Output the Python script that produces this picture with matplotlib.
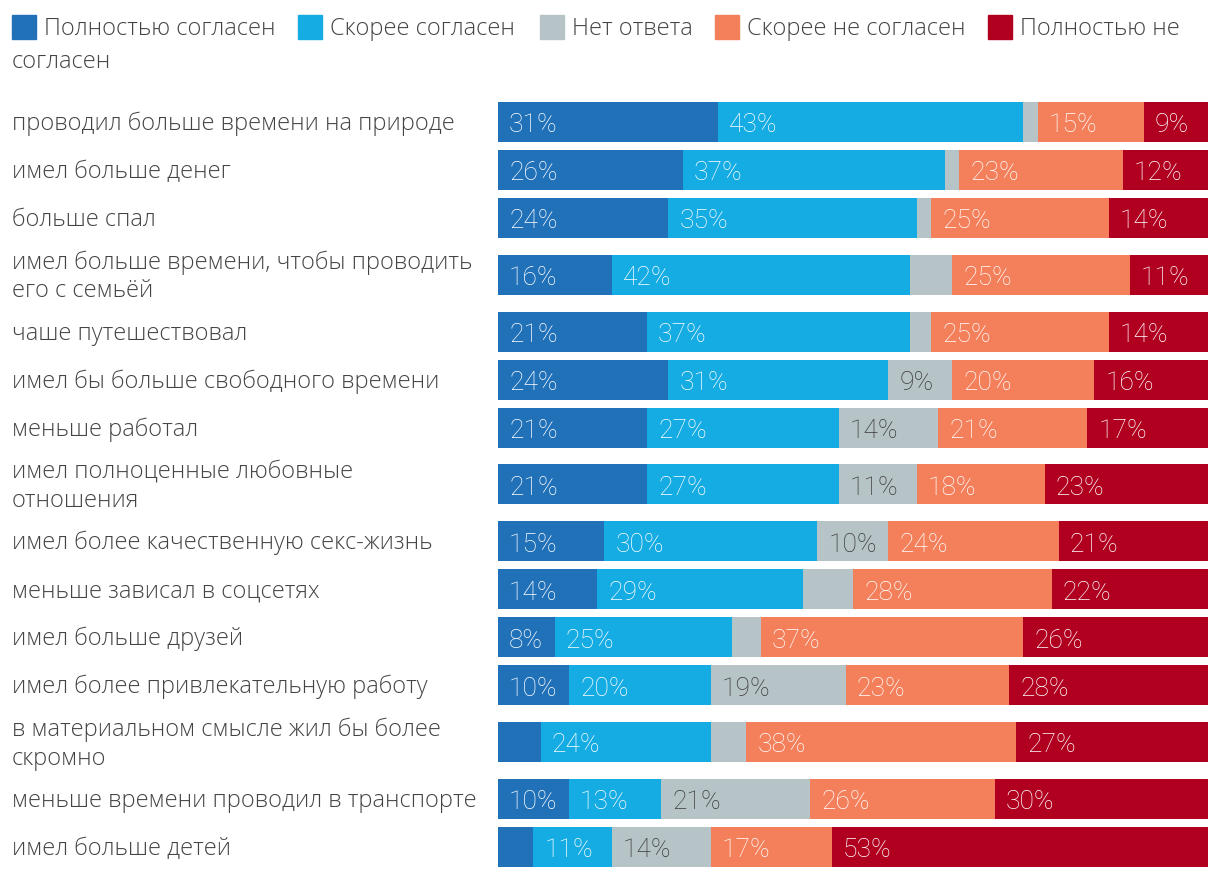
import matplotlib
matplotlib.use("Agg")
import matplotlib.pyplot as plt
from matplotlib.patches import Rectangle

categories = [
    "проводил больше времени на природе",
    "имел больше денег",
    "больше спал",
    "имел больше времени, чтобы проводить\nего с семьёй",
    "чаше путешествовал",
    "имел бы больше свободного времени",
    "меньше работал",
    "имел полноценные любовные\nотношения",
    "имел более качественную секс-жизнь",
    "меньше зависал в соцсетях",
    "имел больше друзей",
    "имел более привлекательную работу",
    "в материальном смысле жил бы более\nскромно",
    "меньше времени проводил в транспорте",
    "имел больше детей",
]
series_names = ["Полностью согласен", "Скорее согласен", "Нет ответа",
                "Скорее не согласен", "Полностью не\nсогласен"]
fully_agree =     [31, 26, 24, 16, 21, 24, 21, 21, 15, 14, 8, 10, 6, 10, 5]
rather_agree =    [43, 37, 35, 42, 37, 31, 27, 27, 30, 29, 25, 20, 24, 13, 11]
no_answer =       [2, 2, 2, 6, 3, 9, 14, 11, 10, 7, 4, 19, 5, 21, 14]
rather_disagree = [15, 23, 25, 25, 25, 20, 21, 18, 24, 28, 37, 23, 38, 26, 17]
fully_disagree =  [9, 12, 14, 11, 14, 16, 17, 23, 21, 22, 26, 28, 27, 30, 53]
series = [fully_agree, rather_agree, no_answer, rather_disagree, fully_disagree]

colors = ["#2171B9", "#15ABE3", "#B6C3C7", "#F47F5B", "#B1001F"]
label_colors = ["white", "white", "#3a3a3a", "white", "white"]

W, H = 1220, 878
fig = plt.figure(figsize=(W / 100, H / 100), dpi=100)

cat_font = "Open Sans"
num_font = "Roboto"
cat_size = 17
num_size = 19

# y positions (pixel-like units) from label line counts
lines = [c.count("\n") + 1 for c in categories]
pos = [0.0]
for i in range(1, len(categories)):
    step = 48.0
    if lines[i] > 1 or lines[i - 1] > 1:
        step += 8.8
    pos.append(pos[-1] + step)

top_px, first_center = 99, 123
y0 = -(first_center - top_px)
y1 = pos[-1] + 25
ax = fig.add_axes([498 / W, 1 - (top_px + (y1 - y0)) / H, 710 / W, (y1 - y0) / H])
ax.set_xlim(0, 100)
ax.set_ylim(y1, y0)
ax.axis("off")

bar_h = 40
left = [0] * len(categories)
for s, vals in enumerate(series):
    ax.barh(pos, vals, left=left, height=bar_h, color=colors[s], edgecolor="none")
    for i, v in enumerate(vals):
        if v >= 8:
            ax.text(left[i] + 1.55, pos[i] + 9.5, f"{v}%", va="baseline", ha="left",
                    color=label_colors[s], fontsize=num_size, family=num_font,
                    fontweight="light")
    left = [l + v for l, v in zip(left, vals)]

for i, c in enumerate(categories):
    fig.text(12 / W, 1 - (first_center + pos[i] + 1) / H, c, ha="left", va="center",
             fontsize=cat_size, family=cat_font, fontweight="light", color="#444444",
             linespacing=1.27)

# legend
sq = 24
legend_x = [12, 298, 540, 715, 988]
for s, name in enumerate(series_names):
    x = legend_x[s]
    fig.patches.append(Rectangle((x / W, 1 - (16 + sq) / H), sq / W, sq / H,
                                 transform=fig.transFigure, color=colors[s]))
    first, *rest = name.split("\n")
    fig.text((x + sq + 8) / W, 1 - 29 / H, first, ha="left", va="center",
             fontsize=cat_size, family=cat_font, fontweight="light", color="#444444")
    if rest:
        fig.text(12 / W, 1 - 62 / H, rest[0], ha="left", va="center",
                 fontsize=cat_size, family=cat_font, fontweight="light", color="#444444")

fig.savefig("out.png", dpi=100)
